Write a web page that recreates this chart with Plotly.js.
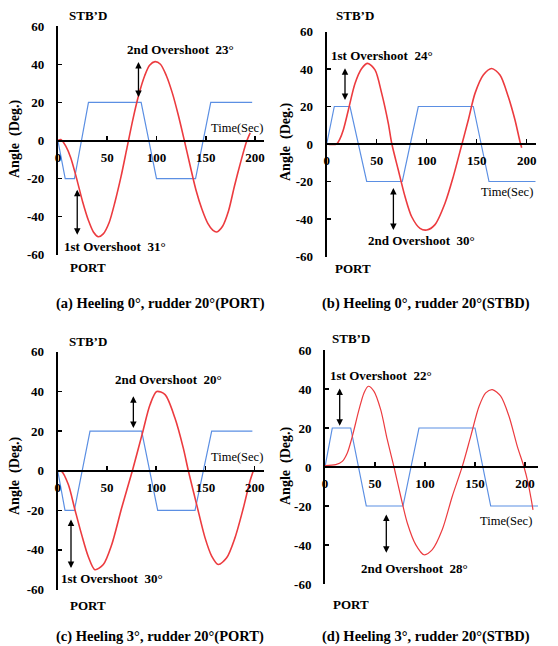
<!DOCTYPE html>
<html><head><meta charset="utf-8">
<script src="https://cdn.plot.ly/plotly-3.0.1.min.js"></script>
<style>html,body{margin:0;padding:0;background:#fff}#chart{width:558px;height:646px}</style>
</head><body><div id="chart"></div>
<script>
// ---- Data ----
const xTickVals = [0, 50, 100, 150, 200];
const xTickText = ['0', '50', '100', '150', '200'];
const yTickVals = [-60, -40, -20, 0, 20, 40, 60];
const yTickText = ['-60', '-40', '-20', '0', '20', '40', '60'];

// (a) Heeling 0°, rudder 20° (PORT)
const tRedA = [0, 3, 8, 13, 19, 25, 31, 36, 41, 46, 52, 58, 64, 70, 76, 82, 88, 93, 98.5, 104, 110, 116, 122, 128, 134, 140, 146, 152, 157, 161, 167, 173, 179, 185, 191, 195];
const redA  = [0, 0.5, -3, -9, -20, -32, -42, -48, -50.5, -49, -43, -32, -19, -4, 11, 24, 34, 39.5, 41.4, 40, 34, 25, 13.5, 0.5, -13, -26, -36, -43.5, -47, -48, -45, -37, -24, -12, -1, 4];
const tRudA = [0, 7.4, 16.8, 31, 84.4, 100, 139.6, 155, 197];
const rudA  = [0, -20, -20, 20, 20, -20, -20, 20, 20];

// (b) Heeling 0°, rudder 20° (STBD)
const tRedB = [0, 5, 10, 13, 16.6, 21.6, 28.3, 35, 41, 48.3, 55, 61.6, 65, 71.6, 78.3, 85, 93.3, 100, 108.3, 118.3, 126.6, 135, 141.6, 148.3, 156.6, 165, 173.3, 181.6, 188.3, 193.3, 195];
const redB  = [0, -0.3, 0, 2.5, 7.5, 18, 32.3, 40.3, 43, 39.5, 27, 11, 0.4, -13.9, -28, -38.8, -45, -45.9, -43, -31.6, -17.4, -0.5, 12.8, 27, 36.8, 40.3, 36.8, 25.2, 12.8, 1.2, -2];
const tRudB = [0, 7.6, 23.3, 40, 75.6, 91.6, 146.6, 162.3, 209];
const rudB  = [0, 20, 20, -20, -20, 20, 20, -20, -20];

// (c) Heeling 3°, rudder 20° (PORT)
const tRedC = [0, 4, 10.8, 17.5, 24.3, 31, 37.8, 46.3, 54.8, 64.9, 75.8, 86, 93.7, 100.5, 109, 119, 127.5, 132.6, 141, 149.5, 156.3, 163, 171.5, 180, 188.5, 195.2, 198.6];
const redC  = [0, -0.3, -7, -19.7, -32.3, -43.3, -50, -47.4, -37.4, -18.8, 0, 19, 33.3, 40, 38.4, 26.6, 11.4, 0, -17, -33.8, -43.1, -47.4, -44, -33.8, -18.7, -5.2, 0];
const tRudC = [0, 7.4, 16.9, 32.8, 85.2, 101.5, 139.4, 156.3, 197.6];
const rudC  = [0, -20, -20, 20, 20, -20, -20, 20, 20];

// (d) Heeling 3°, rudder 20° (STBD)
const tRedD = [0, 10.7, 17.3, 22.3, 27.3, 34, 39, 43.3, 49, 55.7, 62.3, 69, 75.7, 82.3, 90.7, 99, 107.3, 117.3, 127.3, 137.3, 145.7, 154, 160.7, 167.3, 175.7, 184, 192.3, 199, 203, 206, 208];
const redD  = [0.7, 1.2, 2.9, 7.2, 15.7, 29.4, 38, 41.4, 38.8, 29.4, 14, 0, -15, -28.7, -39.8, -45, -42.4, -32.1, -15, 0.3, 15.7, 31, 38, 39.7, 36.3, 26, 10.6, 0, -8, -16, -22];
const tRudD = [0, 7.3, 25.7, 41.3, 78, 94, 150, 165.7, 213];
const rudD  = [0, 20, 20, -20, -20, 20, 20, -20, -20];

const captions = ['(a) Heeling 0°, rudder 20°(PORT)', '(b) Heeling 0°, rudder 20°(STBD)',
                  '(c) Heeling 3°, rudder 20°(PORT)', '(d) Heeling 3°, rudder 20°(STBD)'];
const overshootText = [
  ['1st Overshoot\u00a0 31°', '2nd Overshoot\u00a0 23°'],
  ['1st Overshoot\u00a0 24°', '2nd Overshoot\u00a0 30°'],
  ['1st Overshoot\u00a0 30°', '2nd Overshoot\u00a0 20°'],
  ['1st Overshoot\u00a0 22°', '2nd Overshoot\u00a0 28°']
];

// ---- Layout / styling ----
const FONT = '"Liberation Serif", "Times New Roman", serif';
const W = 558, H = 646;
const BLUE = '#5b8fe3', RED = '#ec3b3f';

const panels = [
  {tR: tRedA, r: redA, tB: tRudA, b: rudA, xd: [57.9, 264], xr: [0, 209], yd: [26.2, 254.8], redW: 1.6,
   os: [[58, -55.8], [124, 48]], arr: [[19.6, -25, -49.5], [81.7, 42, 22.8]], time: [181.4, 6.4],
   stb: [88, 15], port: [88, 267], cap: [160, 303], yt: [15, 139]},
  {tR: tRedB, r: redB, tB: tRudB, b: rudB, xd: [326.7, 535.7], xr: [0, 209], yd: [31.5, 256.5], redW: 1.6,
   os: [[55, 47], [95, -51.6]], arr: [[18.3, 41.2, 23.5], [66.7, -22.7, -45.9]], time: [180, -25.8],
   stb: [355, 15], port: [353, 268], cap: [426, 303], yt: [286, 142]},
  {tR: tRedC, r: redC, tB: tRudC, b: rudC, xd: [57.7, 263.6], xr: [0, 209], yd: [351.9, 589.5], redW: 1.6,
   os: [[54.8, -54.2], [112.3, 46]], arr: [[13.5, -23.9, -49.2], [76.8, 38.4, 21.6]], time: [181.6, 6.8],
   stb: [88, 341], port: [88, 605], cap: [160, 636], yt: [15, 476]},
  {tR: tRedD, r: redD, tB: tRudD, b: rudD, xd: [325, 538], xr: [0, 213], yd: [350, 584], redW: 1.2,
   os: [[55.7, 47], [89, -51.8]], arr: [[14.7, 41, 21.2], [61.3, -23.6, -44]], time: [180.7, -27.9],
   stb: [351, 338], port: [351, 604], cap: [426, 636], yt: [286, 466]}
];

const traces = [];
const layout = {
  width: W, height: H, margin: {l: 0, r: 0, t: 0, b: 0},
  paper_bgcolor: '#fff', plot_bgcolor: 'rgba(0,0,0,0)', showlegend: false,
  font: {family: FONT, color: '#000'},
  annotations: []
};
const px = v => v / W, py = v => 1 - v / H;

panels.forEach((p, i) => {
  const n = i === 0 ? '' : String(i + 1);
  const xa = 'x' + n, ya = 'y' + n;
  traces.push({x: p.tB, y: p.b, xaxis: xa, yaxis: ya, mode: 'lines', line: {color: BLUE, width: 1.2}, hoverinfo: 'skip'});
  traces.push({x: p.tR, y: p.r, xaxis: xa, yaxis: ya, mode: 'lines', line: {color: RED, width: p.redW, shape: 'spline', smoothing: 0.8}, hoverinfo: 'skip'});
  const yDom = [py(p.yd[1]), py(p.yd[0])];
  layout['xaxis' + n] = {
    domain: [px(p.xd[0]), px(p.xd[1])], range: p.xr, anchor: 'free', position: (yDom[0] + yDom[1]) / 2,
    showline: true, linecolor: '#000', linewidth: 2.4, ticks: 'inside', ticklen: 4, tickwidth: 1.5, tickcolor: '#000',
    tickvals: xTickVals, ticktext: xTickText, ticklabelstandoff: 4,
    tickfont: {family: FONT, size: 13, color: '#000', weight: 'bold'},
    showgrid: false, zeroline: false, fixedrange: true
  };
  layout['yaxis' + n] = {
    domain: yDom, range: [-60, 60], anchor: xa,
    showline: true, linecolor: '#000', linewidth: 2, ticks: 'inside', ticklen: 4, tickwidth: 1.5, tickcolor: '#000',
    tickvals: yTickVals, ticktext: yTickText, ticklabelstandoff: 9,
    tickfont: {family: FONT, size: 13, color: '#000', weight: 'bold'},
    showgrid: false, zeroline: false, fixedrange: true
  };
  const A = layout.annotations;
  const txt = (x, y, t, size, bold, xref, yref, angle) => A.push({
    x: x, y: y, xref: xref, yref: yref, text: t, showarrow: false, xanchor: 'center', yanchor: 'middle',
    textangle: angle || 0, font: {family: FONT, size: size, color: '#000', weight: bold ? 'bold' : 'normal'}
  });
  txt(px(p.stb[0]), py(p.stb[1]), 'STB\u2019D', 13, true, 'paper', 'paper');
  txt(px(p.port[0]), py(p.port[1]), 'PORT', 13, true, 'paper', 'paper');
  txt(px(p.cap[0]), py(p.cap[1]), captions[i], 14.5, true, 'paper', 'paper');
  txt(px(p.yt[0]), py(p.yt[1]), 'Angle\u00a0 (Deg.)', 14, true, 'paper', 'paper', -90);
  txt(p.time[0], p.time[1], 'Time(Sec)', 12.5, false, xa, ya);
  p.os.forEach((o, k) => txt(o[0], o[1], overshootText[i][k], 13, true, xa, ya));
  p.arr.forEach(a => A.push({
    x: a[0], y: a[2], ax: a[0], ay: a[1], xref: xa, yref: ya, axref: xa, ayref: ya,
    text: '', showarrow: true, arrowhead: 2, arrowside: 'end+start', arrowsize: 1, arrowwidth: 1.3, arrowcolor: '#000'
  }));
});

Plotly.newPlot('chart', traces, layout, {staticPlot: true, displayModeBar: false});
</script></body></html>
